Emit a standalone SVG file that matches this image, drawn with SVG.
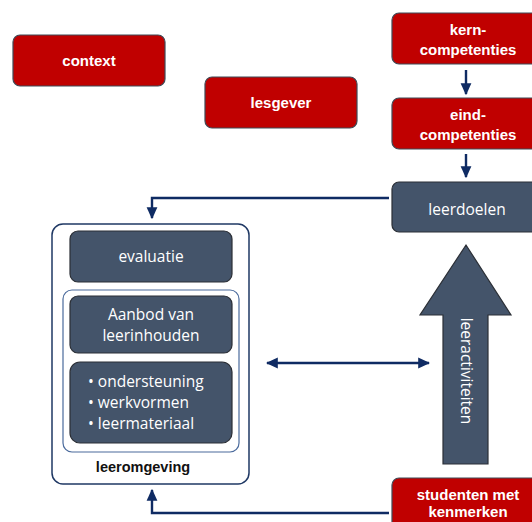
<svg xmlns="http://www.w3.org/2000/svg" width="532" height="522" viewBox="0 0 532 522">
<defs>
<style>
.red{fill:#C00000;stroke:#3E4A57;stroke-width:1.2}
.slate{fill:#44546A;stroke:#2B2F36;stroke-width:1.2}
.wt{font-family:"Liberation Sans",Arial,sans-serif;font-size:15px;fill:#fff;font-weight:bold;text-anchor:middle}
.lt{font-family:"Open Sans","Liberation Sans",sans-serif;font-size:15.5px;fill:#fff;text-anchor:middle}
.conn{fill:none;stroke:#0F2B63;stroke-width:2.4}
</style>
<marker id="ah" viewBox="0 0 10 10" refX="9" refY="5" markerWidth="5" markerHeight="5" orient="auto-start-reverse" markerUnits="strokeWidth">
<path d="M0,0.5 L10,5 L0,9.5 Z" fill="#0F2B63"/>
</marker>
</defs>
<rect width="532" height="522" fill="#fff"/>

<g id="context"><rect class="red" x="13" y="35" width="152" height="51" rx="7"/><text class="wt" x="89" y="66">context</text></g>
<g id="lesgever"><rect class="red" x="205" y="77" width="152" height="51" rx="7"/><text class="wt" x="281" y="108">lesgever</text></g>
<g id="kerncompetenties"><rect class="red" x="392" y="13" width="152" height="51" rx="7"/><text class="wt" x="468" y="35">kern-</text><text class="wt" x="468" y="55">competenties</text></g>
<g id="eindcompetenties"><rect class="red" x="392" y="98" width="152" height="51" rx="7"/><text class="wt" x="468" y="120">eind-</text><text class="wt" x="468" y="140">competenties</text></g>
<g id="leerdoelen"><rect class="slate" x="392" y="182" width="152" height="50" rx="7"/><text class="lt" x="467" y="215">leerdoelen</text></g>

<g id="leeromgeving">
<rect x="52" y="224" width="197" height="260" rx="11" fill="#fff" stroke="#1F3864" stroke-width="1.5"/>
<rect x="63" y="290" width="176" height="162" rx="9" fill="#fff" stroke="#4A6A9C" stroke-width="1.2"/>
<text x="143" y="472" font-family="Liberation Sans,Arial,sans-serif" font-size="14.5" font-weight="bold" text-anchor="middle" fill="#111">leeromgeving</text>
</g>
<g id="evaluatie"><rect class="slate" x="70" y="231" width="162" height="51" rx="8"/><text class="lt" x="151" y="262">evaluatie</text></g>
<g id="aanbod"><rect class="slate" x="70" y="296" width="162" height="57" rx="8"/><text class="lt" x="151" y="320">Aanbod van</text><text class="lt" x="151" y="341">leerinhouden</text></g>
<g id="werkvormen"><rect class="slate" x="70" y="362" width="162" height="81" rx="10"/>
<text font-family="Open Sans,Liberation Sans,sans-serif" font-size="15.5" fill="#fff"><tspan x="88" y="387">• ondersteuning</tspan><tspan x="88" y="408">• werkvormen</tspan><tspan x="88" y="429">• leermateriaal</tspan></text></g>

<g id="leeractiviteiten">
<path d="M466,245 L511,315 L488,315 L488,464 L443,464 L443,315 L420,315 Z" fill="#44546A" stroke="#2B2F36" stroke-width="1.2"/>
<text class="lt" transform="translate(461,371) rotate(90)">leeractiviteiten</text>
</g>

<g id="studenten"><rect class="red" x="392" y="478" width="152" height="56" rx="7"/><text class="wt" x="468" y="500">studenten met</text><text class="wt" x="468" y="517">kenmerken</text></g>

<g id="connectors">
<line class="conn" x1="466" y1="70" x2="466" y2="94" stroke-width="1.6" marker-end="url(#ah)"/>
<line class="conn" x1="466" y1="154" x2="466" y2="177" stroke-width="1.6" marker-end="url(#ah)"/>
<path class="conn" d="M389,198 L152,198 L152,218" marker-end="url(#ah)"/>
<path class="conn" d="M389,513 L152,513 L152,490" marker-end="url(#ah)"/>
<line class="conn" x1="267" y1="363" x2="429" y2="363" marker-start="url(#ah)" marker-end="url(#ah)"/>
</g>
</svg>
